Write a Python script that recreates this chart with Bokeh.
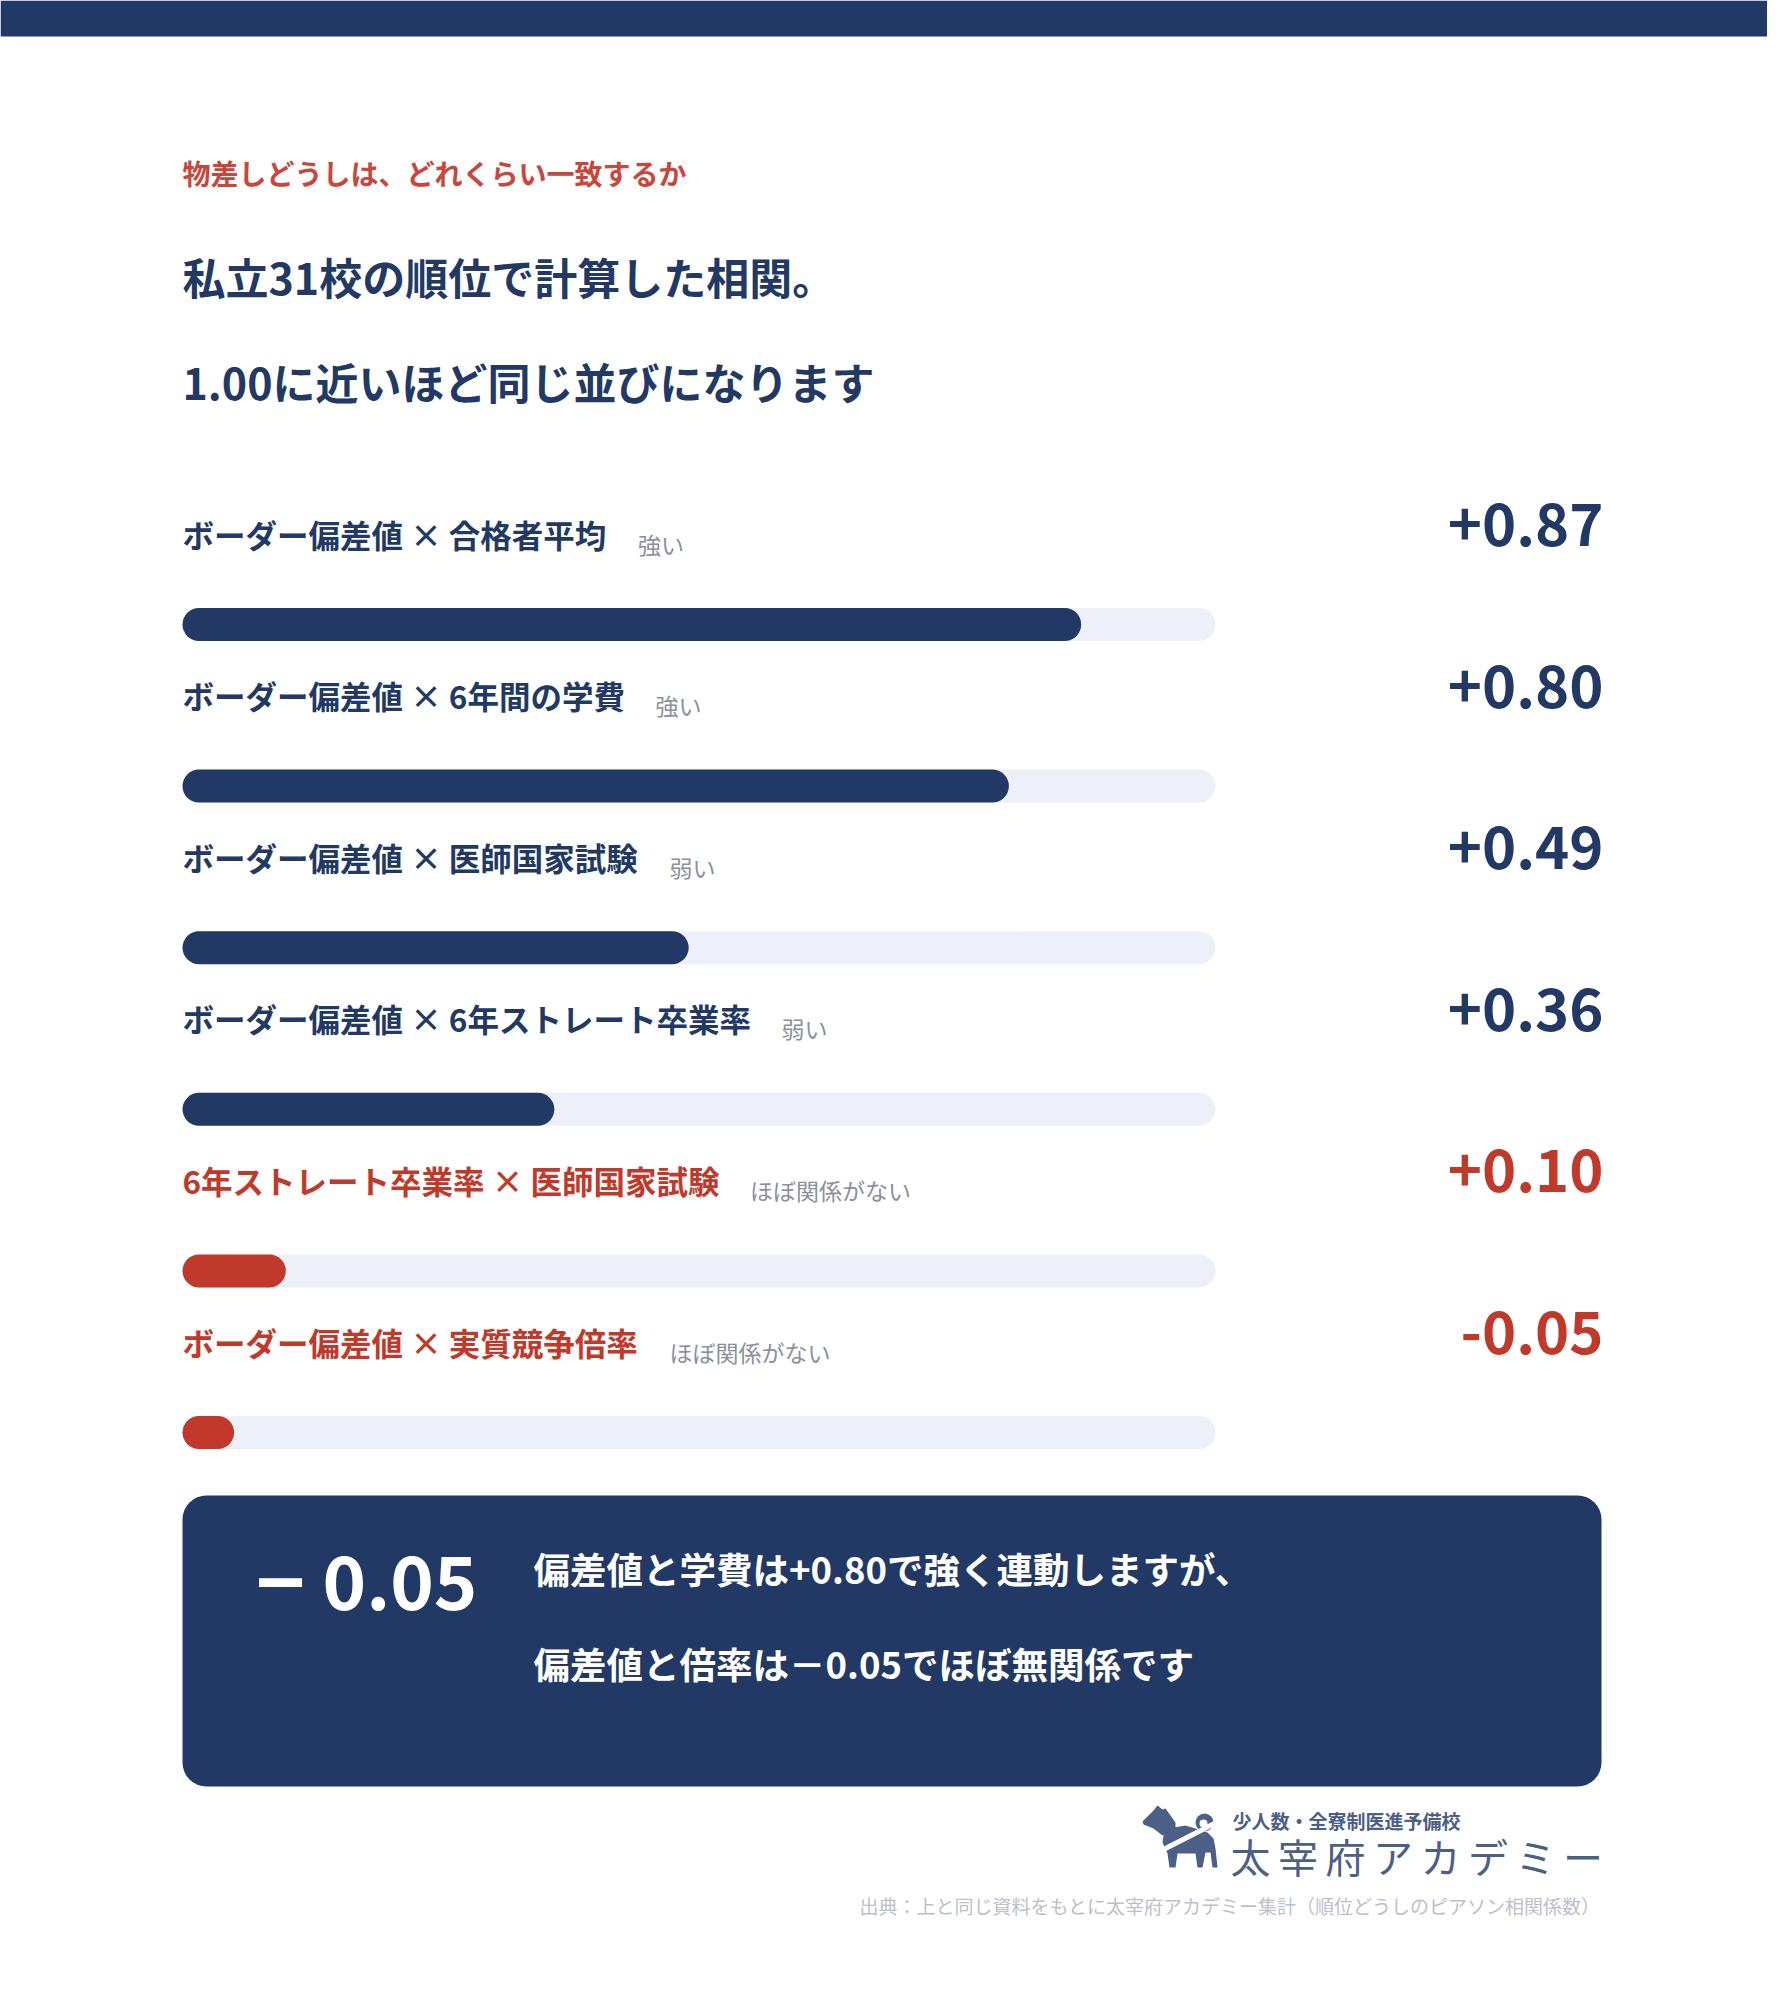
from bokeh.plotting import figure
from bokeh.models import Range1d, BoxAnnotation, ColumnDataSource
from bokeh.embed import file_html
from bokeh.resources import INLINE
from bokeh.core.properties import value

# ---------------- data ----------------
pair_labels = [
    "ボーダー偏差値 × 合格者平均",
    "ボーダー偏差値 × 6年間の学費",
    "ボーダー偏差値 × 医師国家試験",
    "ボーダー偏差値 × 6年ストレート卒業率",
    "6年ストレート卒業率 × 医師国家試験",
    "ボーダー偏差値 × 実質競争倍率",
]
correlations = [0.87, 0.80, 0.49, 0.36, 0.10, -0.05]
strength_tags = ["強い", "強い", "弱い", "弱い", "ほぼ関係がない", "ほぼ関係がない"]
highlighted = [False, False, False, False, True, True]

kicker = "物差しどうしは、どれくらい一致するか"
title_lines = ["私立31校の順位で計算した相関。", "1.00に近いほど同じ並びになります"]
logo_sub = "少人数・全寮制医進予備校"
logo_main = "太宰府アカデミー"
source_note = "出典：上と同じ資料をもとに太宰府アカデミー集計（順位どうしのピアソン相関係数）"

# ---------------- style ----------------
FONT = "Noto Sans CJK JP"
NAVY = "#213964"
RED = "#C0392B"
KICKER_RED = "#C8463C"
TRACK = "#EDF0F8"
TAG_GRAY = "#8A909C"
SRC_GRAY = "#BCC0CB"
LOGO = "#4B5F87"

W, H = 1767, 1984
p = figure(width=W, height=H, x_range=Range1d(0, W), y_range=Range1d(H, 0),
           output_backend="svg", toolbar_location=None, min_border=0,
           x_axis_type=None, y_axis_type=None)
p.grid.visible = False
p.outline_line_color = None
p.background_fill_color = "white"
p.border_fill_color = "white"

TRACK_L, TRACK_W = 182, 1033
s = -TRACK_L / TRACK_W
p.extra_x_ranges = {"corr": Range1d(s, s + W / TRACK_W)}


def em_width(txt):
    w = 0.0
    for ch in txt:
        if ch == " ":
            w += 0.224
        elif ord(ch) < 128:
            w += 0.55
        else:
            w += 1.0
    return w


def signed(v, full=False):
    if v < 0:
        return ("－" if full else "-") + f"{abs(v):.2f}"
    return "+" + f"{v:.2f}"


# top band
p.quad(left=0, right=W, top=0, bottom=36, fill_color=NAVY, line_color=None)

# headings
p.text(x=[182], y=[172], text=[kicker], text_font=value(FONT), text_font_size="28px",
       text_font_style="bold", text_color=KICKER_RED, text_baseline="middle")
p.text(x=[182, 182], y=[275, 380], text=title_lines, text_font=value(FONT),
       text_font_size="43px", text_font_style="bold", text_color=NAVY, text_baseline="middle")

# rows
n = len(correlations)
step = 161.6
colors = [RED if h else NAVY for h in highlighted]
label_y = [533 + step * i for i in range(n)]
value_y = [524 + step * i for i in range(n)]
tag_y = [543 + step * i for i in range(n)]
bar_y = [624 + step * i for i in range(n)]
LABEL_PX = 31.5
tag_x = [TRACK_L + em_width(t) * LABEL_PX + 32 for t in pair_labels]

rows = ColumnDataSource(dict(
    label=pair_labels, tag=strength_tags,
    val=[signed(v) for v in correlations],
    color=colors, ly=label_y, vy=value_y, ty=tag_y, tx=tag_x, by=bar_y,
    r0=[16.5 / TRACK_W] * n,
    track_end=[1 - 16.5 / TRACK_W] * n,
    fill_end=[abs(v) - 16.5 / TRACK_W for v in correlations],
))

p.text(x=TRACK_L, y="ly", text="label", source=rows, text_font=value(FONT),
       text_font_size=f"{LABEL_PX}px", text_font_style="bold", text_color="color",
       text_baseline="middle")
p.text(x="tx", y="ty", text="tag", source=rows, text_font=value(FONT),
       text_font_size="23px", text_color=TAG_GRAY, text_baseline="middle")
p.text(x=1603, y="vy", text="val", source=rows, text_font=value(FONT),
       text_font_size="58px", text_font_style="bold", text_color="color",
       text_align="right", text_baseline="middle")

p.segment(x0="r0", x1="track_end", y0="by", y1="by", source=rows, line_width=33,
          line_color=TRACK, line_cap="round", x_range_name="corr")
p.segment(x0="r0", x1="fill_end", y0="by", y1="by", source=rows, line_width=33,
          line_color="color", line_cap="round", x_range_name="corr")

# summary box
box = BoxAnnotation(left=182, right=1601, top=1495, bottom=1786, fill_color=NAVY,
                    fill_alpha=1.0, line_color=None, border_radius=24, level="underlay")
p.add_layout(box)

fee_r = correlations[1]
ratio_r = correlations[5]
p.text(x=[477], y=[1582], text=[f"{abs(ratio_r):.2f}"], text_font=value(FONT),
       text_font_size="74px", text_font_style="bold", text_color="white",
       text_align="right", text_baseline="middle")
p.text(x=[280], y=[1582], text=["−" if ratio_r < 0 else "+"], text_font=value(FONT),
       text_font_size="84px", text_font_style="bold", text_color="white",
       text_align="center", text_baseline="middle")
summary_lines = [
    f"偏差値と学費は{signed(fee_r)}で強く連動しますが、",
    f"偏差値と倍率は{signed(ratio_r, full=True)}でほぼ無関係です",
]
p.text(x=[533, 533], y=[1568, 1663], text=summary_lines, text_font=value(FONT),
       text_font_size="36.5px", text_font_style="bold", text_color="white",
       text_baseline="middle")

# logo
dog_head_x = [1142, 1150, 1153, 1157, 1162, 1165, 1170, 1175, 1175, 1168, 1162, 1153, 1143]
dog_head_y = [1821, 1813, 1810, 1805, 1809, 1808, 1815, 1822, 1827, 1833, 1835, 1828, 1824]
dog_body_x = [1163, 1173, 1185, 1195, 1207, 1213, 1215, 1217, 1212, 1210, 1205, 1202, 1197,
              1195, 1177, 1175, 1169, 1167, 1162]
dog_body_y = [1835, 1827, 1825, 1828, 1832, 1838, 1848, 1867, 1867, 1852, 1852, 1867, 1867,
              1853, 1853, 1867, 1867, 1853, 1842]
p.patches(xs=[dog_head_x, dog_body_x], ys=[dog_head_y, dog_body_y], fill_color=LOGO,
          line_color=None)
p.circle(x=[1204], y=[1822], radius=9, fill_color=LOGO, line_color=None)
p.circle(x=[1203], y=[1823], radius=4, fill_color="white", line_color=None)
p.segment(x0=[1161], y0=[1850], x1=[1214], y1=[1823], line_color="white", line_width=5)

p.text(x=[1232], y=[1820], text=[logo_sub], text_font=value(FONT), text_font_size="19px",
       text_font_style="bold", text_color=LOGO, text_baseline="middle")
chars = list(logo_main)
p.text(x=[1229 + 21 + 47.5 * i for i in range(len(chars))], y=[1855] * len(chars), text=chars,
       text_font=value(FONT), text_font_size="40px", text_color=LOGO,
       text_align="center", text_baseline="middle")

p.text(x=[1600], y=[1905], text=[source_note], text_font=value(FONT), text_font_size="19px",
       text_color=SRC_GRAY, text_align="right", text_baseline="middle")

open("out.html", "w").write(file_html(p, INLINE))
